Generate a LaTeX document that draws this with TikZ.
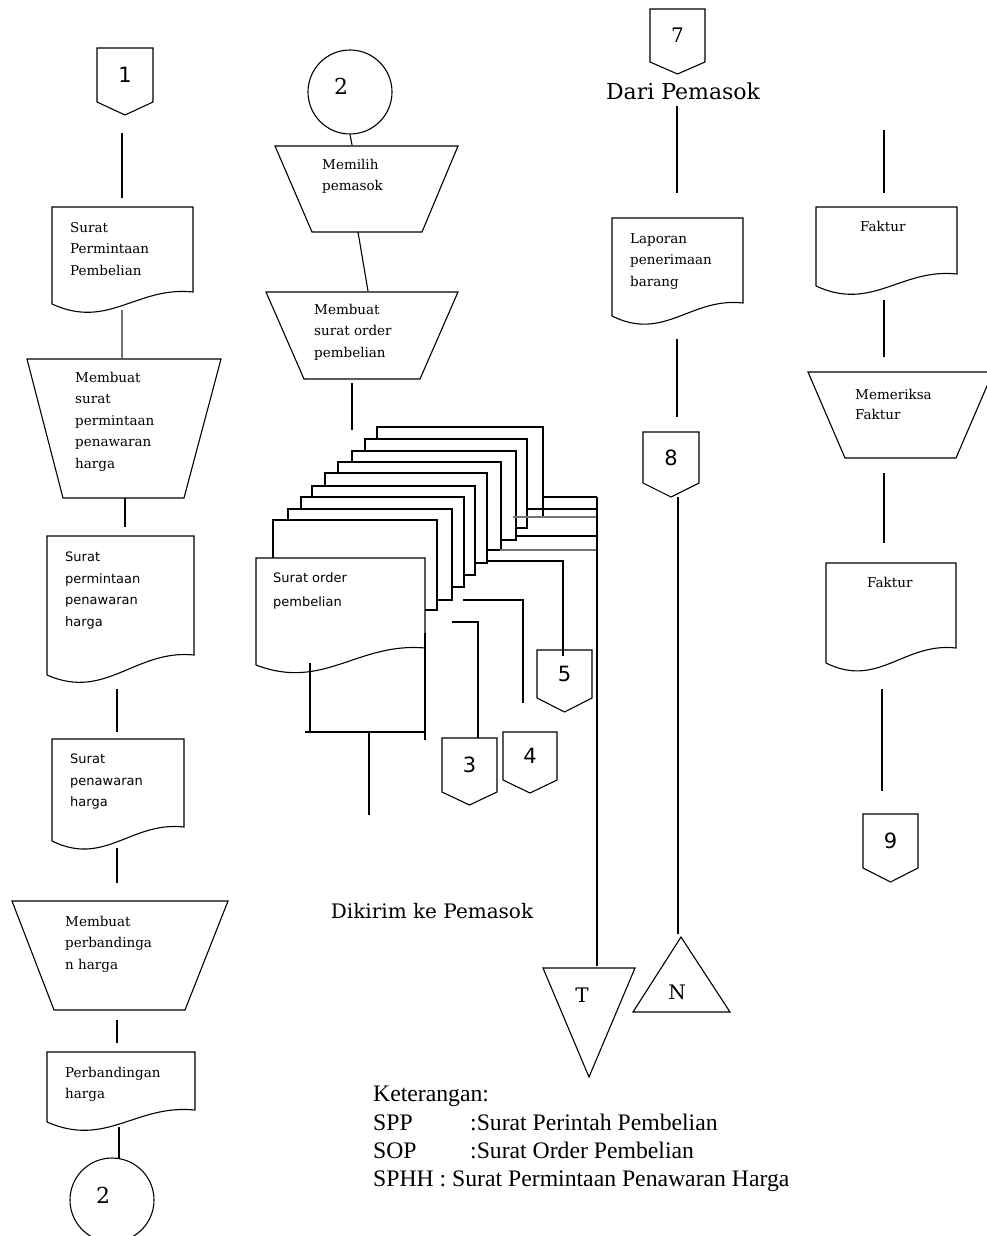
\documentclass[tikz,border=0pt]{standalone}
\usepackage{fontspec}
\setmainfont{DejaVu Serif}
\newfontfamily\boxserif{DejaVu Serif}
\newfontfamily\boxsans{DejaVu Sans}
\newfontfamily\ketfont{Liberation Serif}

\tikzset{
  shp/.style={draw=black, line width=1.1pt, line join=miter},
  conn/.style={draw=black, line width=1.1pt},
  connlight/.style={draw=black!55, line width=1.1pt},
  btxt/.style={inner sep=0pt, anchor=north west, align=left, font=\boxserif\fontsize{13.5}{21.5}\selectfont},
  bstxt/.style={inner sep=0pt, anchor=north west, align=left, font=\boxsans\fontsize{13}{21.5}\selectfont},
  numsans/.style={inner sep=0pt, font=\boxsans\fontsize{21}{24}\selectfont},
  numserif/.style={inner sep=0pt, font=\boxserif\fontsize{22}{24}\selectfont},
  circconn/.style={circle, draw=black, line width=1.1pt, minimum size=84pt, inner sep=0pt},
  bigtxt/.style={inner sep=0pt, anchor=base, font=\boxserif\fontsize{22}{26}\selectfont},
  ket/.style={inner sep=0pt, anchor=north west, align=left, font=\ketfont\fontsize{23.7}{28.4}\selectfont}
}

% document shape: left, top, right, y of left end, y of right end
\newcommand\DocShape[5]{\draw[shp] (#1,#4) -- (#1,#2) -- (#3,#2) -- (#3,#5) .. controls ({#1+0.6*(#3-#1)},{#5-6}) and ({#1+0.4*(#3-#1)},{#4+26}) .. (#1,#4);}
% manual operation: top-left x, top-right x, top y, bottom-left x, bottom-right x, bottom y
\newcommand\TrapShape[6]{\draw[shp] (#1,#3) -- (#2,#3) -- (#5,#6) -- (#4,#6) -- cycle;}
% off-page connector: name, left, top, right, side y, tip y, label
\newcommand\OffPage[7]{\draw[shp] (#2,#3) -- (#4,#3) -- (#4,#5) -- ({(#2+#4)/2},#6) -- (#2,#5) -- cycle;
  \node[numsans] (#1) at ({(#2+#4)/2},{(#3+#5)/2}) {#7};}
% back sheet of the stacked document: x, y, right, bottom, y of sheet in front, right of sheet in front
\newcommand\BackSheet[6]{\draw[shp] (#1,#5) -- (#1,#2) -- (#3,#2) -- (#3,#4) -- (#6,#4);}

\begin{document}
\begin{tikzpicture}[x=1pt,y=-1pt]
\useasboundingbox (0,0) rectangle (986,1236);
\fill[white] (0,0) rectangle (986,1236);

% ================= Column 1 =================
\OffPage{p1}{97}{48}{153}{102}{115}{1}
\coordinate (a1) at (122,133); \coordinate (a2) at (122,198);
\draw[conn] (a1) -- (a2);

\DocShape{52}{207}{193}{304}{292}
\node[btxt] (spp) at (70,222) {Surat\\Permintaan\\Pembelian};
\coordinate (a3) at (122,310); \coordinate (a4) at (122,358);
\draw[connlight] (a3) -- (a4);

\TrapShape{27}{221}{359}{63}{184}{498}
\node[btxt] (mspph) at (75,372) {Membuat\\surat\\permintaan\\penawaran\\harga};
\coordinate (a5) at (125,498); \coordinate (a6) at (125,527);
\draw[conn] (a5) -- (a6);

\DocShape{47}{536}{194}{675}{655}
\node[bstxt] (sphh) at (65,552) {Surat\\permintaan\\penawaran\\harga};
\coordinate (a7) at (117,689); \coordinate (a8) at (117,732);
\draw[conn] (a7) -- (a8);

\DocShape{52}{739}{184}{841}{827}
\node[bstxt] (sph) at (70,754) {Surat\\penawaran\\harga};
\coordinate (a9) at (117,848); \coordinate (a10) at (117,883);
\draw[conn] (a9) -- (a10);

\TrapShape{12}{228}{901}{54}{185}{1010}
\node[btxt] (mph) at (65,916) {Membuat\\perbandinga\\n harga};
\coordinate (a11) at (117,1020); \coordinate (a12) at (117,1043);
\draw[conn] (a11) -- (a12);

\DocShape{47}{1052}{195}{1122}{1110}
\node[btxt] (ph) at (65,1067) {Perbandingan\\harga};
\coordinate (a13) at (119,1127); \coordinate (a14) at (119,1159);
\node[circconn, label={[numserif, xshift=-9pt, yshift=5pt]center:2}] (c2b) at (112,1200) {};
\draw[conn] (a13) -- (a14);

% ================= Column 2 =================
\node[circconn, label={[numserif, xshift=-9pt, yshift=6pt]center:2}] (c2a) at (350,92) {};
\coordinate (b1) at (352,145);
\draw[conn] (c2a.south) -- (b1);

\TrapShape{275}{458}{146}{312}{422}{232}
\node[btxt] (mp) at (322,159) {Memilih\\pemasok};
\coordinate (b2) at (358,232); \coordinate (b3) at (368,291);
\draw[conn] (b2) -- (b3);

\TrapShape{266}{458}{292}{304}{420}{379}
\node[btxt] (msop) at (314,304) {Membuat\\surat order\\pembelian};
\coordinate (b4) at (352,383); \coordinate (b5) at (352,430);
\draw[conn] (b4) -- (b5);

% stacked copies of the purchase order
\BackSheet{377}{427}{543}{517}{439}{527}
\BackSheet{365}{439}{527}{528}{451}{516}
\BackSheet{352}{451}{516}{540}{462}{501}
\BackSheet{338}{462}{501}{550}{473}{487}
\BackSheet{325}{473}{487}{563}{486}{475}
\BackSheet{312}{486}{475}{575}{497}{464}
\BackSheet{301}{497}{464}{587}{509}{452}
\BackSheet{288}{509}{452}{600}{520}{437}
\BackSheet{273}{520}{437}{610}{558}{425}
\DocShape{256}{558}{425}{665}{648}
\node[bstxt, font=\boxsans\fontsize{13}{24}\selectfont] (sop) at (273,572) {Surat order\\pembelian};

% lines from copies
\coordinate (s1) at (543,497); \coordinate (s1e) at (597,497);
\coordinate (s2) at (528,509); \coordinate (s2e) at (597,509);
\coordinate (s3) at (513,517); \coordinate (s3e) at (597,517);
\coordinate (s4) at (515,536); \coordinate (s4e) at (597,536);
\coordinate (s5) at (500,550); \coordinate (s5e) at (597,550);
\draw[conn] (s1) -- (s1e);
\draw[conn] (s2) -- (s2e);
\draw[connlight] (s3) -- (s3e);
\draw[conn] (s4) -- (s4e);
\draw[connlight] (s5) -- (s5e);
\coordinate (tT) at (597,966);
\draw[conn] (s1e) -- (tT);

\coordinate (s6) at (487,561); \coordinate (s6c) at (563,561); \coordinate (s6e) at (563,656);
\draw[conn] (s6) -- (s6c) -- (s6e);
\coordinate (s7) at (463,600); \coordinate (s7c) at (523,600); \coordinate (s7e) at (523,703);
\draw[conn] (s7) -- (s7c) -- (s7e);
\coordinate (s8) at (452,622); \coordinate (s8c) at (478,622); \coordinate (s8e) at (478,738);
\draw[conn] (s8) -- (s8c) -- (s8e);

% bracket under the front copy
\coordinate (f1) at (310,663); \coordinate (f2) at (310,732);
\coordinate (f3) at (305,732); \coordinate (f4) at (425,732);
\coordinate (f5) at (425,633); \coordinate (f6) at (425,740);
\coordinate (f7) at (369,732); \coordinate (f8) at (369,815);
\draw[conn] (f1) -- (f2);
\draw[conn] (f3) -- (f4);
\draw[conn] (f5) -- (f6);
\draw[conn] (f7) -- (f8);

\OffPage{p3}{442}{738}{497}{792}{805}{3}
\OffPage{p4}{503}{732}{557}{780}{793}{4}
\OffPage{p5}{537}{650}{592}{698}{712}{5}

\node[bigtxt, font=\boxserif\fontsize{20}{24}\selectfont] (dikirim) at (432,918) {Dikirim ke Pemasok};

% triangles T and N
\draw[shp] (543,968) -- (635,968) -- (589,1077) -- cycle;
\node[inner sep=0pt, font=\boxserif\fontsize{20}{24}\selectfont] (T) at (582,995) {T};
\draw[shp] (681,937) -- (730,1012) -- (633,1012) -- cycle;
\node[inner sep=0pt, font=\boxserif\fontsize{20}{24}\selectfont] (N) at (677,992) {N};

% ================= Column 3 =================
\OffPage{p7}{650}{9}{705}{62}{74}{\boxserif\fontsize{20}{24}\selectfont 7}
\node[bigtxt] (dari) at (683,100) {Dari Pemasok};
\coordinate (d1) at (677,106); \coordinate (d2) at (677,193);
\draw[conn] (d1) -- (d2);

\DocShape{612}{218}{743}{316}{303}
\node[btxt] (lpb) at (630,233) {Laporan\\penerimaan\\barang};
\coordinate (d3) at (677,339); \coordinate (d4) at (677,417);
\draw[conn] (d3) -- (d4);

\OffPage{p8}{643}{432}{699}{483}{497}{8}
\coordinate (d5) at (678,497); \coordinate (d6) at (678,934);
\draw[conn] (d5) -- (d6);

% ================= Column 4 =================
\coordinate (e1) at (884,130); \coordinate (e2) at (884,193);
\draw[conn] (e1) -- (e2);
\DocShape{816}{207}{957}{286}{274}
\node[btxt] (fk1) at (860,221) {Faktur};
\coordinate (e3) at (884,300); \coordinate (e4) at (884,357);
\draw[conn] (e3) -- (e4);

\TrapShape{808}{993}{372}{845}{956}{458}
\node[btxt, font=\boxserif\fontsize{13.5}{20}\selectfont] (mf) at (855,389) {Memeriksa\\Faktur};
\coordinate (e5) at (884,473); \coordinate (e6) at (884,543);
\draw[conn] (e5) -- (e6);

\DocShape{826}{563}{956}{663}{648}
\node[btxt] (fk2) at (867,577) {Faktur};
\coordinate (e7) at (882,689); \coordinate (e8) at (882,791);
\draw[conn] (e7) -- (e8);
\OffPage{p9}{863}{814}{918}{868}{882}{9}

% ================= Legend =================
\node[ket] (keterangan) at (373,1086) {Keterangan:\\
\makebox[97pt][l]{SPP}:Surat Perintah Pembelian\\
\makebox[97pt][l]{SOP}:Surat Order Pembelian\\
SPHH : Surat Permintaan Penawaran Harga};
\end{tikzpicture}
\end{document}
